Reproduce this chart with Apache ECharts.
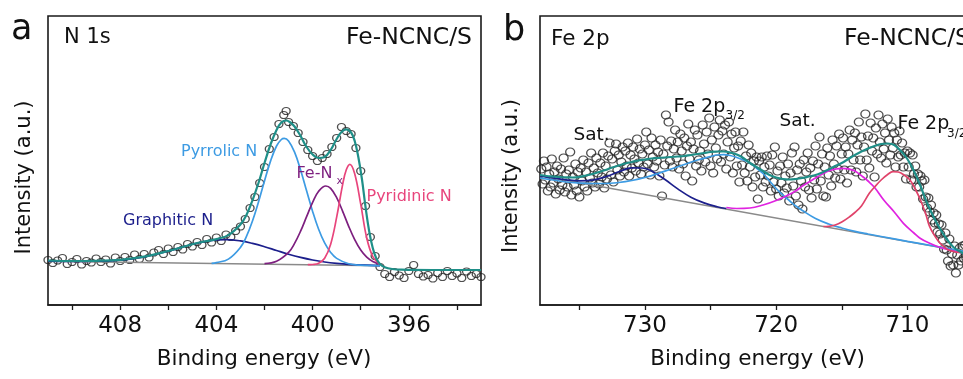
<!DOCTYPE html>
<html><head><meta charset="utf-8">
<script src="https://cdn.jsdelivr.net/npm/echarts@6/dist/echarts.min.js"></script>
<style>html,body{margin:0;padding:0;background:#fff}#c{width:963px;height:379px}</style>
</head><body><div id="c"></div>
<script>
const FONT = '"DejaVu Sans", sans-serif';

// ---------- Panel a : N 1s ----------
const n1sTicks = [394, 396, 398, 400, 402, 404, 406, 408, 410];
const n1sTickLabels = [396, 400, 404, 408];
const n1sData = [
 [411.0,45],[410.8,42],[410.6,44.5],[410.4,47],[410.2,41],[410.0,43],[409.8,46],[409.6,40.5],[409.4,44],[409.2,42.5],
 [409.0,46.5],[408.8,43],[408.6,45.5],[408.4,41.5],[408.2,47.5],[408.0,44],[407.8,48],[407.6,45],[407.4,50.5],[407.2,46],
 [407.0,51],[406.8,47.5],[406.6,52.5],[406.4,55],[406.2,51],[406.0,56.5],[405.8,53],[405.6,58],[405.4,55.5],[405.2,61],
 [405.0,58.5],[404.8,63],[404.6,60],[404.4,66],[404.2,62.5],[404.0,67.5],[403.8,64],[403.6,70.5],[403.4,68],[403.2,74],
 [403.0,78.5],[402.8,86],[402.6,97],[402.4,108],[402.2,122],[402.0,138],[401.8,156],[401.6,168],[401.4,181],[401.2,190],
 [401.1,194],[401.0,183],[400.8,179],[400.6,172],[400.4,163],[400.2,155],[400.0,149],[399.8,144],[399.6,147],[399.4,151],
 [399.2,158],[399.0,167],[398.8,178],[398.6,174],[398.4,171],[398.2,157],[398.0,134],[397.8,99],[397.6,68],[397.4,49],
 [397.2,38],[397.0,31],[396.8,28],[396.6,33],[396.4,29.5],[396.2,27],[396.0,34],[395.8,40],[395.6,31],[395.4,28.5],
 [395.2,30],[395.0,26.5],[394.8,32],[394.6,28],[394.4,34],[394.2,29],[394.0,31.5],[393.8,27],[393.6,33.5],[393.4,29],
 [393.2,31],[393.0,28]
];
const n1sEnvelope = [
 [411,44.5],[410,44],[409,44.2],[408,45.2],[407,48.3],[406,54],[405,60.7],[404.5,63.5],[404,65.9],[403.5,69.9],
 [403,80.5],[402.75,90],[402.5,104.7],[402.25,122],[402,142],[401.75,160.5],[401.5,175],[401.3,182.5],[401.1,184.5],[400.95,183],
 [400.75,178.5],[400.5,169],[400.25,158],[400,150.5],[399.75,147],[399.5,148],[399.25,155],[399,166],[398.8,173],[398.6,175.7],
 [398.4,172.5],[398.25,164],[398.1,148],[397.95,126],[397.8,98],[397.65,74],[397.5,57],[397.35,46.5],[397.2,41],[397,37.8],
 [396.7,36],[396.3,35.3],[395,35],[393,35]
];
const n1sBackground = [[411,43.8],[397.2,39.3]];
const n1sGraphitic = [
 [411,43.8],[410,43.6],[409,43.8],[408,44.9],[407,48.2],[406,53.9],[405,60.7],[404.5,63.4],[404,65.0],[403.6,65.4],
 [403,64.1],[402.5,61.6],[402,58.3],[401.5,54.5],[401,50.8],[400.5,47.6],[400,45.0],[399.5,43.0],[399,41.6],[398.5,40.6],
 [398,40.1],[397.2,39.4]
];
const n1sPyrrolic = [
 [404.2,41.6],[404,42.4],[403.5,45.9],[403,57.6],[402.75,68.6],[402.5,84.0],[402.25,103.1],[402,124.1],[401.75,143.9],[401.5,159.0],
 [401.3,165.5],[401.18,166.6],[401,164.0],[400.75,152.8],[400.5,135.1],[400.25,114.2],[400,93.6],[399.75,75.8],[399.5,62.1],[399.25,52.6],
 [399,46.6],[398.5,41.2],[398,39.8],[397.2,39.3]
];
const n1sFeNx = [
 [402,41.4],[401.5,43.7],[401,52.6],[400.75,61.6],[400.5,73.8],[400.25,88.3],[400,102.6],[399.75,113.7],[399.45,119.0],[399.25,116.6],
 [399,107.3],[398.75,93.7],[398.5,78.7],[398.25,65.4],[398,54.9],[397.75,47.8],[397.5,43.5],[397.2,40.8]
];
const n1sPyridinic = [
 [400.2,40.3],[400,40.5],[399.75,41.7],[399.5,46.7],[399.25,60.8],[399,87.8],[398.75,120.7],[398.6,135.2],[398.45,140.7],[398.25,131.2],
 [398,100.9],[397.75,67],[397.5,48.5],[397.25,41.5],[397.2,40.8]
];

// ---------- Panel b : Fe 2p ----------
const fe2pTicks = [705, 710, 715, 720, 725, 730, 735];
const fe2pTickLabels = [710, 720, 730];
const fe2pData = [
 [737.9,136],[737.8,121],[737.7,144],[737.6,125],[737.5,138],[737.4,114],[737.3,131],[737.2,118],[737.1,146],[737.0,122],
 [736.9,133],[736.8,111],[736.7,139],[736.6,126],[736.5,115],[736.4,136],[736.3,120],[736.2,147],[736.1,113],[736.0,131],
 [735.9,118],[735.8,135],[735.7,153],[735.6,110],[735.5,128],[735.4,120],[735.3,141],[735.2,114],[735.1,133],[735.0,108],
 [734.9,137],[734.8,124],[734.7,145],[734.6,118],[734.5,133],[734.4,114],[734.3,142],[734.2,127],[734.1,152],[734.0,122],
 [733.9,137],[733.8,118],[733.7,147],[733.6,132],[733.5,121],[733.4,142],[733.3,128],[733.2,152],[733.1,117],[733.0,139],
 [732.9,126],[732.8,149],[732.7,162],[732.6,130],[732.5,146],[732.4,123],[732.3,154],[732.2,161],[732.1,135],[732.0,150],
 [731.9,129],[731.8,143],[731.7,158],[731.6,133],[731.5,154],[731.4,139],[731.3,162],[731.2,129],[731.1,150],[731.0,137],
 [730.9,158],[730.8,146],[730.7,134],[730.6,166],[730.5,142],[730.4,156],[730.3,131],[730.2,151],[730.1,138],[730.0,160],
 [729.9,173],[729.8,141],[729.7,155],[729.6,130],[729.5,167],[729.4,148],[729.3,138],[729.2,160],[729.1,144],[729.0,153],
 [728.9,129],[728.8,165],[728.7,109],[728.6,151],[728.5,140],[728.4,190],[728.3,159],[728.2,183],[728.1,144],[728.0,164],
 [727.9,138],[727.8,156],[727.7,175],[727.6,147],[727.5,163],[727.4,136],[727.3,171],[727.2,154],[727.1,141],[727.0,167],
 [726.9,129],[726.8,159],[726.7,181],[726.6,146],[726.5,163],[726.4,124],[726.3,156],[726.2,175],[726.1,139],[726.0,170],
 [725.9,145],[725.8,154],[725.7,134],[725.6,180],[725.5,161],[725.4,143],[725.3,173],[725.2,151],[725.1,187],[725.0,139],
 [724.9,165],[724.8,132],[724.7,178],[724.6,157],[724.5,146],[724.4,170],[724.3,185],[724.2,143],[724.1,174],[724.0,151],
 [723.9,180],[723.8,136],[723.7,163],[723.6,183],[723.5,148],[723.4,171],[723.3,132],[723.2,157],[723.1,173],[723.0,139],
 [722.9,159],[722.8,123],[722.7,164],[722.6,140],[722.5,173],[722.4,132],[722.3,149],[722.2,124],[722.1,160],[722.0,138],
 [721.9,152],[721.8,118],[721.7,144],[721.6,128],[721.5,148],[721.4,106],[721.3,144],[721.2,130],[721.1,148],[721.0,118],
 [720.9,138],[720.8,123],[720.7,149],[720.6,129],[720.5,140],[720.4,114],[720.3,150],[720.2,123],[720.1,158],[720.0,116],
 [719.9,134],[719.8,109],[719.7,139],[719.6,122],[719.5,148],[719.4,112],[719.3,129],[719.2,117],[719.1,141],[719.0,104],
 [718.9,132],[718.8,152],[718.7,119],[718.6,158],[718.5,109],[718.4,135],[718.3,100],[718.2,141],[718.1,124],[718.0,96],
 [717.9,145],[717.8,118],[717.7,133],[717.6,152],[717.5,115],[717.4,137],[717.3,107],[717.2,144],[717.1,125],[717.0,159],
 [716.9,116],[716.8,141],[716.7,168],[716.6,124],[716.5,151],[716.4,109],[716.3,138],[716.2,108],[716.1,157],[716.0,130],
 [715.9,149],[715.8,119],[715.7,165],[715.6,141],[715.5,127],[715.4,159],[715.3,136],[715.2,171],[715.1,126],[715.0,151],
 [714.9,167],[714.8,135],[714.7,158],[714.6,122],[714.5,151],[714.4,175],[714.3,135],[714.2,165],[714.1,145],[714.0,172],
 [713.9,133],[713.8,160],[713.7,183],[713.6,145],[713.5,168],[713.4,129],[713.3,158],[713.2,191],[713.1,145],[713.0,169],
 [712.9,137],[712.8,182],[712.7,154],[712.6,167],[712.5,128],[712.4,177],[712.3,151],[712.2,190],[712.1,163],[712.0,147],
 [711.9,181],[711.8,156],[711.7,172],[711.6,142],[711.5,186],[711.4,165],[711.3,150],[711.2,178],[711.1,157],[711.0,172],
 [710.9,138],[710.8,165],[710.7,148],[710.6,174],[710.5,150],[710.4,162],[710.3,138],[710.2,152],[710.1,126],[710.0,154],
 [709.9,138],[709.8,152],[709.7,125],[709.6,150],[709.5,131],[709.4,139],[709.3,118],[709.2,131],[709.1,118],[709.0,129],
 [708.9,124],[708.8,106],[708.7,125],[708.6,108],[708.5,97],[708.4,107],[708.3,93],[708.2,100],[708.1,85],[708.0,92],
 [707.9,82],[707.8,90],[707.7,73],[707.6,81],[707.5,71],[707.4,80],[707.3,65],[707.2,56],[707.1,72],[707.0,55],
 [706.9,44],[706.8,66],[706.7,39],[706.6,51],[706.5,40],[706.4,59],[706.3,32],[706.2,50],[706.1,40],[706.0,57],
 [705.9,44],[705.8,59],[705.7,47],[705.6,60],[705.5,47]
];
const fe2pEnvelope = [
 [738,130],[737.5,129],[737,128.5],[736.5,128],[736,127.7],[735.5,127.5],[735,128],[734.5,129.5],[734,131],[733.5,133],
 [733,135],[732.5,137.5],[732,139.5],[731.5,141.5],[731,143],[730.5,144.5],[730,145.5],[729.5,146.5],[729,147],[728.5,147.5],
 [728,148],[727.5,148.5],[727,149],[726.5,150],[726,151],[725.5,152],[725,153],[724.5,153.5],[724,153.5],[723.5,152.5],
 [723,150.5],[722.5,147],[722,142],[721.5,138],[721,134],[720.5,130],[720,127.5],[719.5,126],[719,125.5],[718.5,126],
 [718,127],[717.5,128.5],[717,130],[716.5,132.5],[716,135.5],[715.5,139],[715,142],[714.5,146],[714,150],[713.5,153.5],
 [713,156.5],[712.5,159],[712,161],[711.5,161.5],[711,160],[710.5,154],[710,146],[709.5,134],[709,119],[708.5,102],
 [708,88],[707.5,76],[707,66],[706.5,58],[706,53.5],[705.5,50]
];
const fe2pBackground = [[738,129.2],[705.5,53]];
const fe2pSatHigh = [
 [738,129.2],[737,127],[736,125.2],[735,124.1],[734,124.9],[733,128.2],[732,133.2],[731,137.1],[730.2,137],[729.5,134],
 [728.5,125.7],[727.5,116.1],[726.5,107.8],[725.5,102.1],[724.5,98.3],[723.8,96.5]
];
const fe2p12 = [
 [738,127],[737,125],[736,123],[735,122],[734,121.5],[733,121.5],[732,122.5],[731,124.5],[730,127.5],[729,131.5],
 [728,136],[727,140.5],[726,145],[725,148.5],[724.5,150],[724,150.3],[723.5,149.5],[723,147.5],[722.5,145],[722,142],
 [721.5,137],[721,131.5],[720.5,124],[720,116.5],[719.5,110],[719,104.5],[718.5,99],[718,94.5],[717,86.5],[716,81],
 [715,77],[714,73.7],[713,71],[712,68.5],[710,63.7],[708,59],[706,54.4],[705.5,53.2]
];
const fe2pSatLow = [
 [723.8,97.5],[723,96.5],[722,97],[721,100],[720,104.5],[719,110.5],[718.4,115],[718,119],[717,127],[716.4,131.5],
 [716,134],[715.5,135.8],[715,136.7],[714.5,136.2],[714,134],[713.4,128.3],[713,124],[712.5,117.5],[711.8,105],[711,93],
 [710.3,81.7],[709.5,72],[709,66.5],[708.3,61.7],[707.5,57.5],[706.5,54],[706,52.5],[705.5,51.5]
];
const fe2p32 = [
 [716.4,78.5],[716,78.7],[715.5,80],[715,83],[714.4,88.3],[714,92.5],[713.5,99],[712.9,111.7],[712.5,118],[712,125],
 [711.5,130.5],[711.1,133.3],[710.7,133],[710.2,129.5],[709.8,125],[709.4,116],[709,105],[708.6,91],[708.3,78.3],[707.9,69],
 [707.5,61.7],[707,56],[706.5,53.5],[706,52.5],[705.5,52]
];

const C = {
  frame: '#1a1a1a', circle: '#222', envelope: '#1f8f88', bg: '#8a8a8a',
  navy: '#1c1f8c', blue: '#3d9be3', purple: '#7d1f7f', pink: '#e8457c',
  magenta: '#e023e0', red: '#e0436a'
};

function xAxisDef(gi, min, max, ticks, labels) {
  return {
    type: 'value', gridIndex: gi, min: min, max: max, inverse: true,
    axisLine: { show: true, onZero: false, lineStyle: { color: C.frame, width: 1.6 } },
    axisTick: { show: true, inside: false, length: 5, customValues: ticks, lineStyle: { color: C.frame, width: 1.3 } },
    axisLabel: { show: true, customValues: labels, margin: 10, color: '#111', fontFamily: FONT, fontSize: 23,
                 formatter: v => String(Math.round(v)) },
    splitLine: { show: false }
  };
}
function yAxisDef(gi) {
  return { type: 'value', gridIndex: gi, min: 0, max: 289,
    axisLine: { show: false }, axisTick: { show: false }, axisLabel: { show: false }, splitLine: { show: false } };
}
function scat(gi, data, size) {
  return { type: 'scatter', xAxisIndex: gi, yAxisIndex: gi, data: data, symbol: 'circle', symbolSize: size,
    itemStyle: { color: 'rgba(0,0,0,0)', borderColor: C.circle, borderWidth: 1.25 }, silent: true, z: 2 };
}
function line(gi, data, color, width, smooth) {
  return { type: 'line', xAxisIndex: gi, yAxisIndex: gi, data: data, showSymbol: false, symbol: 'none',
    smooth: smooth, lineStyle: { color: color, width: width }, silent: true, z: 3 };
}
function txt(text, x, y, size, color, align, rot) {
  return { type: 'text', x: x, y: y, rotation: rot || 0, z: 50,
    style: { text: text, fill: color || '#111', font: size + 'px ' + FONT,
      textAlign: align || 'left', textVerticalAlign: 'middle', align: align || 'left', verticalAlign: 'middle' } };
}

const chart = echarts.init(document.getElementById('c'), null, { renderer: 'canvas' });
chart.setOption({
  animation: false,
  backgroundColor: '#fff',
  grid: [
    { left: 48, top: 16, width: 433, height: 289, show: true, borderColor: C.frame, borderWidth: 1.6, outerBoundsMode: 'none' },
    { left: 540, top: 16, width: 459.2, height: 289, show: true, borderColor: C.frame, borderWidth: 1.6, outerBoundsMode: 'none' }
  ],
  xAxis: [ xAxisDef(0, 393, 411, n1sTicks, n1sTickLabels), xAxisDef(1, 703, 738, fe2pTicks, fe2pTickLabels) ],
  yAxis: [ yAxisDef(0), yAxisDef(1) ],
  series: [
    scat(0, n1sData, [8, 7]),
    line(0, n1sBackground, C.bg, 1.5, false),
    line(0, n1sGraphitic, C.navy, 1.7, 0.4),
    line(0, n1sPyrrolic, C.blue, 1.7, 0.4),
    line(0, n1sFeNx, C.purple, 1.7, 0.4),
    line(0, n1sPyridinic, C.pink, 1.7, 0.4),
    line(0, n1sEnvelope, C.envelope, 2.2, 0.4),
    scat(1, fe2pData, [9, 8]),
    line(1, fe2pBackground, C.bg, 1.5, false),
    line(1, fe2pSatHigh, C.navy, 1.7, 0.4),
    line(1, fe2p12, C.blue, 1.7, 0.4),
    line(1, fe2pSatLow, C.magenta, 1.7, 0.4),
    line(1, fe2p32, C.red, 1.7, 0.4),
    line(1, fe2pEnvelope, C.envelope, 2.2, 0.4)
  ],
  graphic: [
    txt('a', 11, 30, 35, '#111'),
    txt('N 1s', 64, 38, 21, '#111'),
    txt('Fe-NCNC/S', 472, 37.5, 23.5, '#111', 'right'),
    txt('Intensity (a.u.)', 25, 177.5, 21, '#111', 'center', Math.PI / 2),
    txt('Binding energy (eV)', 264, 359.5, 21.5, '#111', 'center'),
    txt('Graphitic N', 123, 221, 16, C.navy),
    txt('Pyrrolic N', 181, 152, 16, C.blue),
    txt('Fe-N', 296.5, 173.5, 16, C.purple),
    txt('x', 336.5, 181.5, 11, C.purple),
    txt('Pyridinic N', 366.5, 197, 16, C.pink),
    txt('b', 503, 31, 35, '#111'),
    txt('Fe 2p', 551, 39.5, 21.5, '#111'),
    txt('Fe-NCNC/S', 844, 39, 23.5, '#111'),
    txt('Intensity (a.u.)', 511.5, 176, 21, '#111', 'center', Math.PI / 2),
    txt('Binding energy (eV)', 757.5, 359.5, 21.5, '#111', 'center'),
    txt('Sat.', 573.5, 135, 18.5, '#111'),
    txt('Fe 2p', 673.5, 107, 19, '#111'),
    txt('3/2', 725.5, 116, 12, '#111'),
    txt('Sat.', 779.5, 121.5, 18.5, '#111'),
    txt('Fe 2p', 897.5, 124.5, 19, '#111'),
    txt('3/2', 947, 133.5, 12, '#111')
  ]
});
</script></body></html>
